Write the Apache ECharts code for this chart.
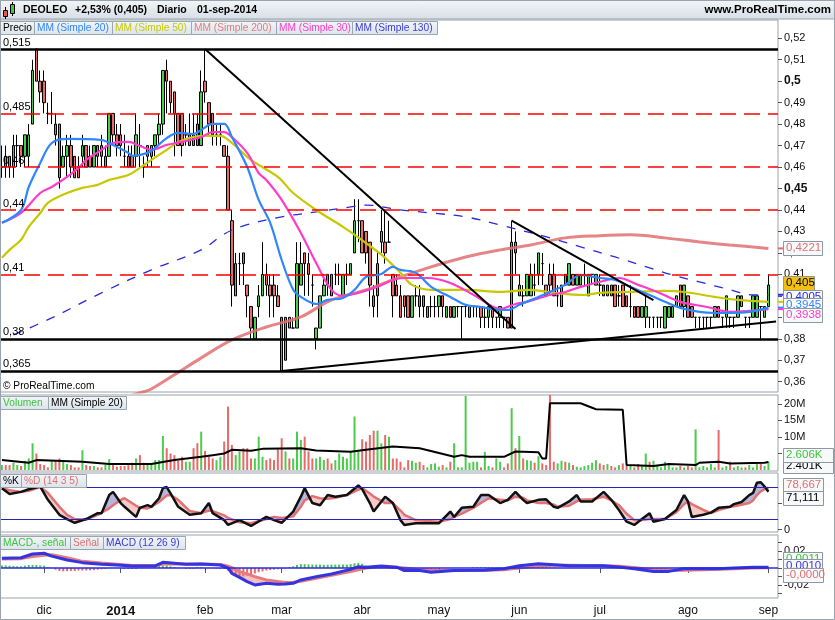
<!DOCTYPE html>
<html>
<head>
<meta charset="utf-8">
<script src="https://cdn.jsdelivr.net/npm/echarts@6/dist/echarts.min.js"></script>
<style>
  html, body { margin: 0; padding: 0; background: #fff; }
  #chart { width: 835px; height: 620px; }
</style>
</head>
<body>
<div id="chart"></div>
<script>
// === Data === //
const tradingDays = [
  ['2013-11', [15, 18, 19, 20, 21, 22, 25, 26, 27, 28, 29]],
  ['2013-12', [2, 3, 4, 5, 6, 9, 10, 11, 12, 13, 16, 17, 18, 19, 20, 23, 24, 27, 30, 31]],
  ['2014-01', [2, 3, 6, 7, 8, 9, 10, 13, 14, 15, 16, 17, 20, 21, 22, 23, 24, 27, 28, 29, 30, 31]],
  ['2014-02', [3, 4, 5, 6, 7, 10, 11, 12, 13, 14, 17, 18, 19, 20, 21, 24, 25, 26, 27, 28]],
  ['2014-03', [3, 4, 5, 6, 7, 10, 11, 12, 13, 14, 17, 18, 19, 20, 21, 24, 25, 26, 27, 28, 31]],
  ['2014-04', [1, 2, 3, 4, 7, 8, 9, 10, 11, 14, 15, 16, 17, 22, 23, 24, 25, 28, 29, 30]],
  ['2014-05', [2, 5, 6, 7, 8, 9, 12, 13, 14, 15, 16, 19, 20, 21, 22, 23, 26, 27, 28, 29, 30]],
  ['2014-06', [2, 3, 4, 5, 6, 9, 10, 11, 12, 13, 16, 17, 18, 19, 20, 23, 24, 25, 26, 27, 30]],
  ['2014-07', [1, 2, 3, 4, 7, 8, 9, 10, 11, 14, 15, 16, 17, 18, 21, 22, 23, 24, 25, 28, 29, 30, 31]],
  ['2014-08', [1, 4, 5, 6, 7, 8, 11, 12, 13, 14, 15, 18, 19, 20, 21, 22, 25, 26, 27, 28, 29]],
  ['2014-09', [1]]
]

const monthTickLabels = {
  '2013-12': 'dic', '2014-01': '2014', '2014-02': 'feb', '2014-03': 'mar', '2014-04': 'abr',
  '2014-05': 'may', '2014-06': 'jun', '2014-07': 'jul', '2014-08': 'ago', '2014-09': 'sep'
}

// [open, close, low, high]
const candles = [
  [0.460, 0.460, 0.455, 0.470], [0.465, 0.460, 0.455, 0.470], [0.465, 0.460, 0.455, 0.465], [0.460, 0.470, 0.455, 0.475], [0.470, 0.470, 0.460, 0.475],
  [0.470, 0.465, 0.460, 0.470], [0.465, 0.475, 0.460, 0.475], [0.465, 0.475, 0.460, 0.480], [0.480, 0.505, 0.480, 0.510], [0.515, 0.500, 0.500, 0.515],
  [0.500, 0.495, 0.490, 0.505], [0.500, 0.490, 0.485, 0.505], [0.485, 0.485, 0.480, 0.490], [0.485, 0.485, 0.480, 0.495], [0.480, 0.475, 0.470, 0.485],
  [0.480, 0.455, 0.450, 0.480], [0.460, 0.465, 0.460, 0.470], [0.465, 0.470, 0.455, 0.475], [0.470, 0.460, 0.455, 0.475], [0.465, 0.455, 0.455, 0.465],
  [0.460, 0.455, 0.455, 0.465], [0.465, 0.470, 0.460, 0.475], [0.470, 0.460, 0.460, 0.470], [0.465, 0.460, 0.460, 0.470], [0.460, 0.470, 0.460, 0.470],
  [0.470, 0.465, 0.460, 0.470], [0.470, 0.465, 0.460, 0.475], [0.460, 0.465, 0.460, 0.470], [0.465, 0.485, 0.465, 0.485], [0.485, 0.475, 0.470, 0.485],
  [0.475, 0.470, 0.465, 0.480], [0.475, 0.470, 0.465, 0.480], [0.465, 0.465, 0.460, 0.475], [0.465, 0.460, 0.460, 0.470], [0.465, 0.460, 0.460, 0.470],
  [0.465, 0.475, 0.460, 0.485], [0.470, 0.470, 0.460, 0.480], [0.460, 0.460, 0.455, 0.465], [0.465, 0.470, 0.460, 0.470], [0.465, 0.470, 0.460, 0.470],
  [0.470, 0.475, 0.465, 0.475], [0.475, 0.480, 0.470, 0.485], [0.480, 0.505, 0.475, 0.505], [0.505, 0.500, 0.485, 0.510], [0.500, 0.490, 0.485, 0.500],
  [0.495, 0.485, 0.465, 0.495], [0.485, 0.470, 0.470, 0.485], [0.485, 0.470, 0.465, 0.485], [0.475, 0.475, 0.470, 0.480], [0.470, 0.475, 0.470, 0.485],
  [0.475, 0.470, 0.470, 0.485], [0.480, 0.470, 0.470, 0.485], [0.470, 0.495, 0.470, 0.505], [0.500, 0.495, 0.490, 0.515], [0.490, 0.480, 0.475, 0.490],
  [0.485, 0.475, 0.470, 0.485], [0.475, 0.475, 0.470, 0.480], [0.475, 0.475, 0.470, 0.480], [0.470, 0.465, 0.465, 0.470], [0.465, 0.440, 0.440, 0.470],
  [0.435, 0.405, 0.395, 0.440], [0.400, 0.415, 0.400, 0.420], [0.415, 0.415, 0.405, 0.420], [0.420, 0.415, 0.405, 0.420], [0.405, 0.400, 0.390, 0.405],
  [0.395, 0.385, 0.380, 0.395], [0.380, 0.390, 0.380, 0.390], [0.395, 0.400, 0.390, 0.405], [0.400, 0.410, 0.400, 0.425], [0.410, 0.405, 0.400, 0.415],
  [0.405, 0.400, 0.390, 0.410], [0.405, 0.400, 0.390, 0.410], [0.400, 0.395, 0.395, 0.405], [0.390, 0.365, 0.365, 0.390], [0.370, 0.390, 0.370, 0.390],
  [0.390, 0.385, 0.385, 0.390], [0.385, 0.385, 0.385, 0.390], [0.385, 0.415, 0.385, 0.425], [0.405, 0.415, 0.405, 0.425], [0.420, 0.415, 0.400, 0.420],
  [0.415, 0.410, 0.400, 0.420], [0.405, 0.405, 0.395, 0.410], [0.380, 0.385, 0.375, 0.385], [0.385, 0.400, 0.385, 0.400], [0.400, 0.405, 0.400, 0.410],
  [0.410, 0.405, 0.400, 0.410], [0.410, 0.400, 0.400, 0.410], [0.410, 0.410, 0.405, 0.415], [0.410, 0.410, 0.405, 0.415], [0.400, 0.410, 0.400, 0.410],
  [0.410, 0.410, 0.405, 0.415], [0.410, 0.415, 0.410, 0.415], [0.420, 0.435, 0.420, 0.445], [0.435, 0.435, 0.425, 0.445], [0.435, 0.420, 0.420, 0.435],
  [0.430, 0.420, 0.415, 0.430], [0.425, 0.405, 0.395, 0.425], [0.400, 0.395, 0.390, 0.405], [0.400, 0.415, 0.390, 0.420], [0.425, 0.430, 0.420, 0.440],
  [0.425, 0.420, 0.415, 0.440], [0.425, 0.425, 0.425, 0.435], [0.410, 0.400, 0.390, 0.410], [0.405, 0.400, 0.400, 0.410], [0.400, 0.390, 0.390, 0.405],
  [0.400, 0.395, 0.390, 0.400], [0.400, 0.390, 0.390, 0.400], [0.390, 0.400, 0.390, 0.400], [0.400, 0.400, 0.395, 0.405], [0.400, 0.395, 0.390, 0.405],
  [0.400, 0.395, 0.390, 0.400], [0.390, 0.395, 0.390, 0.395], [0.395, 0.395, 0.390, 0.400], [0.395, 0.395, 0.390, 0.400], [0.395, 0.400, 0.390, 0.400],
  [0.400, 0.395, 0.390, 0.400], [0.390, 0.395, 0.390, 0.395], [0.395, 0.390, 0.390, 0.395], [0.390, 0.395, 0.390, 0.395], [0.395, 0.395, 0.390, 0.395],
  [0.395, 0.395, 0.380, 0.395], [0.395, 0.395, 0.390, 0.395], [0.390, 0.395, 0.390, 0.395], [0.395, 0.395, 0.390, 0.395], [0.395, 0.395, 0.390, 0.395],
  [0.395, 0.390, 0.385, 0.395], [0.390, 0.390, 0.385, 0.395], [0.390, 0.395, 0.385, 0.395], [0.395, 0.390, 0.385, 0.395], [0.390, 0.390, 0.385, 0.390],
  [0.390, 0.395, 0.385, 0.395], [0.390, 0.390, 0.385, 0.390], [0.390, 0.385, 0.385, 0.390], [0.385, 0.425, 0.385, 0.435], [0.425, 0.420, 0.410, 0.430],
  [0.400, 0.405, 0.400, 0.410], [0.400, 0.400, 0.395, 0.405], [0.400, 0.410, 0.400, 0.410], [0.400, 0.410, 0.400, 0.415], [0.405, 0.405, 0.400, 0.415],
  [0.410, 0.420, 0.405, 0.420], [0.415, 0.415, 0.405, 0.420], [0.405, 0.400, 0.400, 0.405], [0.410, 0.405, 0.400, 0.415], [0.410, 0.400, 0.400, 0.415],
  [0.400, 0.400, 0.395, 0.405], [0.395, 0.405, 0.395, 0.405], [0.410, 0.405, 0.405, 0.410], [0.405, 0.415, 0.405, 0.415], [0.410, 0.405, 0.405, 0.410],
  [0.405, 0.410, 0.405, 0.410], [0.405, 0.410, 0.405, 0.410], [0.410, 0.410, 0.405, 0.415], [0.400, 0.410, 0.400, 0.410], [0.410, 0.410, 0.405, 0.410],
  [0.405, 0.410, 0.405, 0.410], [0.405, 0.405, 0.400, 0.410], [0.405, 0.400, 0.400, 0.405], [0.400, 0.405, 0.400, 0.405], [0.405, 0.400, 0.400, 0.405],
  [0.405, 0.395, 0.395, 0.405], [0.400, 0.400, 0.395, 0.405], [0.405, 0.395, 0.395, 0.405], [0.400, 0.395, 0.395, 0.400], [0.395, 0.395, 0.390, 0.405],
  [0.395, 0.390, 0.390, 0.395], [0.395, 0.390, 0.390, 0.395], [0.390, 0.395, 0.390, 0.395], [0.390, 0.395, 0.385, 0.400], [0.390, 0.390, 0.385, 0.390],
  [0.390, 0.390, 0.385, 0.390], [0.390, 0.390, 0.385, 0.390], [0.390, 0.390, 0.385, 0.390], [0.385, 0.395, 0.385, 0.395], [0.390, 0.395, 0.390, 0.395],
  [0.390, 0.395, 0.390, 0.395], [0.395, 0.400, 0.395, 0.400], [0.405, 0.395, 0.395, 0.405], [0.395, 0.405, 0.390, 0.405], [0.400, 0.390, 0.390, 0.400],
  [0.395, 0.390, 0.390, 0.395], [0.390, 0.390, 0.385, 0.390], [0.390, 0.390, 0.385, 0.390], [0.390, 0.390, 0.385, 0.390], [0.390, 0.390, 0.385, 0.390],
  [0.390, 0.390, 0.385, 0.390], [0.390, 0.395, 0.390, 0.395], [0.395, 0.390, 0.390, 0.395], [0.390, 0.390, 0.385, 0.390], [0.390, 0.400, 0.385, 0.400],
  [0.390, 0.390, 0.385, 0.390], [0.390, 0.390, 0.385, 0.390], [0.390, 0.400, 0.390, 0.400], [0.395, 0.400, 0.395, 0.400], [0.390, 0.390, 0.385, 0.390],
  [0.390, 0.390, 0.385, 0.390], [0.390, 0.400, 0.390, 0.400], [0.390, 0.400, 0.390, 0.400], [0.395, 0.395, 0.380, 0.395], [0.390, 0.395, 0.390, 0.395],
  [0.395, 0.405, 0.395, 0.410]
]

// moving averages: [bar index, value]
const ma20 = [[0, 0.434], [5, 0.44], [7, 0.4507], [10, 0.4619], [13, 0.4712], [17, 0.4731], [26, 0.4726], [29, 0.4703], [33, 0.4666], [34, 0.4652],
  [38, 0.4666], [40, 0.4689], [43, 0.4735], [46, 0.4759], [50, 0.4754], [52, 0.4773], [55, 0.4801], [58, 0.4801], [60, 0.474], [64, 0.46],
  [67, 0.4447], [70, 0.434], [73, 0.4167], [76, 0.4028], [78, 0.3995], [82, 0.3962], [85, 0.3981], [89, 0.399], [92, 0.4028], [95, 0.4088],
  [99, 0.4102], [102, 0.4135], [104, 0.4121], [108, 0.4107], [112, 0.4042], [117, 0.3995], [121, 0.3958], [125, 0.3948], [130, 0.3934], [132, 0.3934],
  [135, 0.3958], [140, 0.3995], [143, 0.4018], [147, 0.4051], [151, 0.4097], [156, 0.4083], [160, 0.4074], [164, 0.4042], [169, 0.4004], [173, 0.3972],
  [177, 0.3944], [182, 0.3925], [186, 0.392], [190, 0.392], [195, 0.3925], [200, 0.3945]]
const ma50 = [[0, 0.4177], [2, 0.4214], [5, 0.4261], [7, 0.4321], [10, 0.4386], [12, 0.4433], [17, 0.4479], [21, 0.4503], [25, 0.4517], [28, 0.454],
  [33, 0.4563], [36, 0.4596], [39, 0.4633], [43, 0.468], [46, 0.4717], [50, 0.474], [53, 0.4745], [57, 0.4745], [60, 0.4712], [65, 0.4633],
  [72, 0.4554], [76, 0.4479], [82, 0.44], [89, 0.4321], [95, 0.4246], [100, 0.4177], [104, 0.4107], [107, 0.4051], [112, 0.4028], [121, 0.4028],
  [130, 0.4018], [138, 0.4028], [144, 0.4014], [152, 0.4004], [156, 0.4014], [164, 0.4018], [173, 0.4023], [178, 0.4018], [186, 0.3995], [192, 0.3981],
  [200, 0.3972]]
const ma200 = [[30, 0.352], [37, 0.3553], [39, 0.3566], [45, 0.3632], [52, 0.3711], [60, 0.3795], [69, 0.3855], [78, 0.3902], [86, 0.3981], [95, 0.4028],
  [104, 0.4088], [112, 0.4135], [121, 0.4181], [130, 0.4214], [138, 0.4237], [147, 0.427], [156, 0.428], [164, 0.4284], [173, 0.427], [182, 0.4251],
  [190, 0.4237], [200, 0.4221]]
const ma30 = [[0, 0.434], [5, 0.4386], [10, 0.4479], [13, 0.4507], [17, 0.4554], [20, 0.4596], [22, 0.4633], [26, 0.468], [29, 0.4712], [33, 0.4717],
  [36, 0.4698], [39, 0.468], [43, 0.4703], [47, 0.4717], [52, 0.474], [55, 0.4763], [58, 0.4763], [60, 0.474], [64, 0.4666], [67, 0.4572],
  [69, 0.454], [73, 0.4447], [78, 0.4293], [82, 0.4153], [86, 0.4028], [89, 0.40], [93, 0.4014], [98, 0.4042], [102, 0.4074], [105, 0.4083],
  [111, 0.4083], [117, 0.406], [124, 0.3995], [130, 0.3939], [134, 0.3962], [137, 0.3972], [143, 0.4004], [147, 0.4018], [151, 0.4042], [158, 0.4074],
  [161, 0.4083], [166, 0.4051], [171, 0.4018], [177, 0.3972], [184, 0.3948], [190, 0.3925], [200, 0.3938]]
const ma130 = [[3, 0.3818], [13, 0.3897], [26, 0.4014], [39, 0.4121], [52, 0.4214], [58, 0.4288], [63, 0.4326], [73, 0.4368], [82, 0.4391], [91, 0.4414],
  [95, 0.4423], [104, 0.44], [112, 0.4386], [121, 0.4368], [130, 0.433], [143, 0.427], [151, 0.4228], [160, 0.4181], [169, 0.413], [175, 0.4097],
  [182, 0.4065], [190, 0.4028], [196, 0.4004], [200, 0.4005]]

const blackLevels = [0.515, 0.38, 0.365]
const redLevels = [0.485, 0.46, 0.44, 0.41]
const trendLines = [[[53, 0.515], [134, 0.3845]], [[73, 0.365], [202, 0.388]], [[133, 0.435], [170, 0.398]]]
const priceTicks = [0.36, 0.37, 0.38, 0.39, 0.40, 0.41, 0.42, 0.43, 0.44, 0.45, 0.46, 0.47, 0.48, 0.49, 0.50, 0.51, 0.52]

// volume in millions
const volume = [
  1.5, 1.5, 1.5, 2.2, 1.5, 1.2, 2.8, 3.5, 8.1, 5.0,
  1.8, 1.5, 0.8, 2.8, 2.8, 3.5, 2.5, 1.8, 1.5, 0.8,
  0.8, 6.0, 1.5, 1.2, 1.2, 0.8, 0.8, 1.5, 3.3, 1.5,
  1.0, 1.2, 1.2, 1.5, 2.2, 3.5, 4.5, 2.2, 1.8, 1.8,
  3.0, 3.0, 10.3, 6.6, 5.0, 4.5, 2.8, 4.0, 2.5, 2.5,
  6.6, 8.1, 11.6, 5.8, 4.0, 3.5, 3.0, 4.0, 8.6, 19.2,
  7.6, 4.5, 5.6, 6.6, 6.6, 3.5, 3.5, 10.1, 4.0, 3.0,
  3.5, 3.0, 6.6, 9.6, 5.6, 3.5, 3.5, 11.6, 9.1, 10.1,
  5.6, 3.5, 3.5, 4.0, 3.0, 3.5, 2.0, 3.0, 5.0, 4.0,
  3.5, 5.6, 16.2, 5.6, 9.3, 8.6, 10.6, 11.9, 11.9, 8.1,
  10.6, 10.1, 3.5, 3.5, 2.5, 0.8, 3.0, 2.8, 2.2, 2.5,
  1.5, 0.8, 1.8, 2.0, 1.0, 1.5, 0.8, 2.5, 8.1, 0.8,
  0.8, 22.4, 2.2, 2.5, 2.5, 0.8, 5.5, 1.2, 0.8, 3.5,
  2.5, 0.8, 2.0, 18.7, 6.6, 10.3, 3.5, 3.0, 2.8, 2.2,
  4.2, 2.0, 1.5, 365, 2.5, 2.0, 2.8, 2.5, 2.2, 1.5,
  1.0, 0.8, 1.2, 1.5, 2.2, 3.0, 2.0, 1.5, 1.8, 1.2,
  0.8, 1.5, 2.0, 1.5, 1.2, 0.8, 1.8, 1.5, 5.0, 2.5,
  2.8, 1.2, 0.8, 2.5, 1.5, 0.8, 0.8, 1.2, 0.8, 1.2,
  0.8, 12.3, 0.8, 1.2, 0.8, 1.8, 0.8, 12.1, 0.8, 1.2,
  2.5, 0.8, 1.2, 0.8, 0.8, 1.5, 0.8, 1.8, 1.8, 1.2, 2.5
]
const volumeMa = [[0, 3.0], [7, 2.2], [9, 3.0], [21, 2.5], [28, 1.8], [39, 1.8], [45, 3.0], [52, 4.0], [55, 4.5], [58, 5.0],
  [60, 6.1], [65, 5.8], [68, 6.4], [78, 6.6], [82, 5.9], [91, 5.5], [95, 6.1], [102, 7.1], [109, 6.6], [118, 4.0],
  [120, 4.5], [122, 4.0], [131, 4.0], [134, 5.6], [140, 5.4], [141, 3.5], [142, 3.5], [143, 20.2], [151, 20.2], [155, 18.4],
  [162, 18.2], [163, 1.5], [170, 1.2], [174, 1.8], [181, 1.5], [182, 2.2], [187, 2.5], [190, 2.0], [199, 2.2], [200, 2.4]]
const volumeTicks = [5, 10, 15, 20]

// stochastic %K / %D (14 3 5)
const stochIdx = [0, 2, 5, 7, 10, 12, 15, 17, 19, 22, 25, 26, 28, 29, 31, 32, 35, 36, 38, 39,
  41, 42, 43, 44, 46, 49, 52, 54, 55, 58, 59, 62, 65, 69, 71, 73, 76, 78, 79, 81,
  83, 85, 87, 90, 93, 94, 96, 97, 100, 102, 104, 105, 108, 112, 114, 117, 118, 120, 123, 125,
  127, 130, 132, 134, 136, 137, 140, 142, 144, 145, 148, 150, 151, 154, 157, 159, 161, 163, 165, 167,
  169, 170, 173, 176, 178, 179, 180, 183, 185, 187, 190, 191, 193, 195, 196, 197, 198, 199, 200]
const stochK = [78, 67, 71, 76, 81, 56, 28, 20, 13, 20, 31, 31, 65, 71, 50, 43, 24, 41, 46, 43,
  59, 78, 80, 68, 43, 28, 31, 50, 31, 18, 9, 18, 7, 24, 18, 13, 34, 62, 78, 50,
  46, 65, 62, 65, 83, 76, 50, 34, 62, 50, 18, 9, 12, 12, 12, 34, 24, 41, 43, 65,
  65, 50, 56, 71, 56, 50, 56, 57, 43, 41, 53, 65, 53, 53, 71, 56, 37, 15, 9, 20,
  31, 15, 20, 37, 65, 53, 24, 28, 32, 41, 43, 48, 52, 65, 69, 88, 89, 81, 71.111]
const stochD = [78, 74, 71, 73, 80, 69, 43, 28, 20, 19, 28, 32, 40, 46, 56, 59, 45, 41, 40, 43,
  52, 58, 64, 65, 56, 35, 31, 36, 35, 27, 22, 14, 12, 20, 24, 22, 25, 43, 55, 63,
  59, 58, 60, 65, 75, 78, 68, 62, 50, 50, 36, 28, 18, 16, 15, 20, 24, 30, 41, 50,
  59, 56, 55, 62, 60, 55, 50, 50, 47, 43, 45, 53, 56, 57, 62, 55, 46, 30, 18, 18,
  20, 20, 20, 33, 48, 53, 48, 37, 31, 37, 43, 44, 47, 50, 55, 65, 72, 76, 78.667]

// MACD (12 26 9)
const macdIdx = [0, 5, 8, 11, 13, 17, 21, 26, 30, 34, 40, 42, 45, 48, 52, 57, 59, 60, 62, 64,
  66, 69, 72, 74, 76, 78, 82, 86, 91, 93, 95, 99, 103, 105, 109, 112, 118, 126, 131, 135,
  140, 144, 148, 157, 161, 165, 170, 174, 178, 183, 187, 191, 196, 200]
const macdLine = [0.0114, 0.012, 0.0165, 0.0173, 0.014, 0.0094, 0.0063, 0.0043, 0.0035, 0.0024,
  0.0024, 0.0067, 0.0055, 0.0043, 0.0047, 0.0035, 0, -0.0063, -0.011, -0.016,
  -0.02, -0.018, -0.019, -0.0188, -0.018, -0.0141, -0.0102, -0.007, -0.0016, 0.0016,
  0.001, 0.0024, 0.001, -0.003, -0.003, -0.005, -0.003, -0.0027, -0.001, 0.0027,
  0.005, 0.0039, 0.0027, 0.0027, 0.0012, -0.001, -0.004, -0.004, -0.001, -0.001,
  -0.0008, 0, 0.001, 0.001]
const macdSignal = [0.0105, 0.011, 0.0135, 0.015, 0.0155, 0.012, 0.0078, 0.0059, 0.0045, 0.003,
  0.0028, 0.0047, 0.005, 0.0048, 0.0047, 0.004, 0.002, 0.0005, -0.0043, -0.007,
  -0.0102, -0.014, -0.016, -0.017, -0.0168, -0.0157, -0.012, -0.0086, -0.0043, -0.002,
  0, 0.0016, 0.001, 0, -0.002, -0.003, -0.003, -0.0027, -0.002, 0,
  0.0027, 0.0031, 0.0031, 0.0027, 0.002, 0.0005, -0.002, -0.0027, -0.0027, -0.002,
  -0.0015, -0.0008, 0, 0.0004]
const macdHist = [
  0.003, 0.003, 0.0028, 0.0025, 0.0022, 0.002, 0.0028, 0.0035, 0.0035, 0.0035,
  0.003, 0.0028, 0.001, 0, -0.002, -0.0035, -0.004, -0.0038, -0.0035, -0.0035,
  -0.003, -0.003, -0.003, -0.0028, -0.0025, -0.002, -0.0015, -0.001, 0, 0,
  0, 0, -0.001, -0.0012, -0.0012, -0.001, 0, 0, 0, 0,
  0.001, 0.0025, 0.003, 0.003, 0.002, 0.001, 0, 0, -0.001, -0.001,
  -0.001, 0.0008, 0.001, 0, 0, 0, -0.001, -0.0012, -0.001, -0.003,
  -0.006, -0.0085, -0.0098, -0.0098, -0.009, -0.008, -0.0065, -0.005, -0.004, -0.003,
  -0.0025, -0.002, -0.0015, -0.001, -0.0005, 0.001, 0.002, 0.0035, 0.0045, 0.0045,
  0.0042, 0.004, 0.004, 0.004, 0.0038, 0.0038, 0.004, 0.004, 0.004, 0.004,
  0.004, 0.0045, 0.0055, 0.006, 0.005, 0.0028, 0.001, 0, 0, 0.0005,
  0.0005, 0, 0, -0.0005, -0.001, -0.001, -0.001, -0.001, -0.001, -0.001,
  -0.001, -0.001, -0.0008, -0.0005, 0, 0, 0, 0, 0, 0,
  0, 0, 0, 0.0008, 0.0008, 0.0008, 0.0008, 0.0008, 0.0008, 0.0005,
  0, 0, 0.0015, 0.002, 0.002, 0.0015, 0.001, 0.001, 0.001, 0.0008,
  0.0012, 0.0012, 0.001, 0.0008, 0.0005, 0, 0, 0, 0, 0,
  0, 0, 0, 0, 0, 0, 0, 0, 0, 0,
  0, 0, 0, 0, 0, 0, 0, 0, -0.0012, -0.0012,
  -0.0012, -0.001, -0.001, -0.0008, 0, 0, 0, 0.0008, 0.0008, 0.0008,
  0.0008, 0.0005, 0.0005, 0, 0, 0.0008, 0.0008, 0.0008, 0.0008, 0.0008,
  0.0008, 0.0008, 0.0008, 0.0008, 0.0008, 0.0008, 0.0008, 0.0005, 0.0005, 0.0005, 0.0005
]
const macdTicks = [-0.03, -0.02, -0.01, 0, 0.01, 0.02, 0.03]

// === Build === //
const FONT = '"Liberation Sans", Arial, sans-serif'
const fmt = (v, d) => v.toFixed(d).replace('.', ',')

const dates = []
const monthFirst = {}
tradingDays.forEach(([month, days]) => {
  if (monthTickLabels[month]) monthFirst[dates.length] = monthTickLabels[month]
  days.forEach(d => dates.push(month + '-' + String(d).padStart(2, '0')))
})
const categories = dates.concat(['', ''])
const isTick = i => monthFirst[i] !== undefined

const GREEN = '#4ccc4c'
const RED = '#e86a6a'
const volColors = candles.map(([o, c], i) => {
  if (c !== o) return c > o ? GREEN : RED
  return i === 0 || c >= candles[i - 1][1] ? GREEN : RED
})

const grids = [
  { left: 0, right: 57, top: 20, height: 372 },
  { left: 0, right: 57, top: 395, height: 76 },
  { left: 0, right: 57, top: 473, height: 59 },
  { left: 0, right: 57, top: 535, height: 63 }
].map(g => ({ ...g, show: true, borderColor: '#9aa3ab', borderWidth: 1, backgroundColor: '#fff' }))

const xAxes = grids.map((g, i) => ({
  type: 'category', gridIndex: i, data: categories, boundaryGap: true,
  axisLine: { show: false }, splitLine: { show: false },
  axisTick: i === 3
    ? { show: true, interval: isTick, alignWithLabel: true, length: 5, lineStyle: { color: '#555' } }
    : { show: false },
  axisLabel: i === 3
    ? {
        show: true, interval: isTick, margin: 7, fontSize: 12, color: '#111', fontFamily: FONT,
        formatter: (v, idx) => (monthFirst[idx] === '2014' ? '{y|2014}' : monthFirst[idx] || ''),
        rich: { y: { fontWeight: 'bold', fontSize: 13, fontFamily: FONT, color: '#111' } }
      }
    : { show: false }
}))

const yBase = {
  type: 'value', position: 'right', splitLine: { show: false }, axisLine: { show: false },
  axisTick: { show: true, length: 4, lineStyle: { color: '#555' } },
  axisLabel: { margin: 6, fontSize: 11, color: '#111', fontFamily: FONT }
}
const yAxes = [
  {
    ...yBase, gridIndex: 0, min: 0.3552, max: 0.5285,
    axisTick: { ...yBase.axisTick, customValues: priceTicks },
    axisLabel: {
      ...yBase.axisLabel, customValues: priceTicks,
      formatter: v => {
        const s = String(+v.toFixed(3)).replace('.', ',')
        return Math.round(v * 1000) % 50 === 0 ? '{b|' + s + '}' : s
      },
      rich: { b: { fontWeight: 'bold', fontSize: 12, fontFamily: FONT, color: '#111' } }
    }
  },
  {
    ...yBase, gridIndex: 1, min: -0.3, max: 22.7,
    axisTick: { ...yBase.axisTick, customValues: volumeTicks },
    axisLabel: { ...yBase.axisLabel, customValues: volumeTicks, formatter: v => v + 'M' }
  },
  {
    ...yBase, gridIndex: 2, min: -4.3, max: 106.4,
    axisTick: { ...yBase.axisTick, customValues: [0, 50] },
    axisLabel: { ...yBase.axisLabel, customValues: [0, 50] }
  },
  {
    ...yBase, gridIndex: 3, min: -0.0353, max: 0.0388,
    axisTick: { ...yBase.axisTick, customValues: macdTicks },
    axisLabel: {
      ...yBase.axisLabel, customValues: macdTicks,
      formatter: v => (Math.abs(Math.abs(v) - 0.02) < 1e-9 ? fmt(v, 2) : '')
    }
  }
]

const maLine = (name, data, color, width, extra) => ({
  name, type: 'line', xAxisIndex: 0, yAxisIndex: 0, data, smooth: 0.35, symbol: 'none',
  silent: true, z: 4, lineStyle: { color, width, ...(extra || {}) }
})

// filled band between two sampled lines, coloured by which one is on top
const band = (idx, a, b, axis, upColor, downColor) => ({
  type: 'custom', xAxisIndex: axis, yAxisIndex: axis, silent: true, z: 2,
  data: idx.slice(0, -1).map((v, j) => [v, a[j], j]),
  renderItem: (params, api) => {
    const j = api.value(2)
    const a0 = api.coord([idx[j], a[j]]), a1 = api.coord([idx[j + 1], a[j + 1]])
    const b0 = api.coord([idx[j], b[j]]), b1 = api.coord([idx[j + 1], b[j + 1]])
    const d0 = a[j] - b[j], d1 = a[j + 1] - b[j + 1]
    const col = d => (d >= 0 ? upColor : downColor)
    if (d0 * d1 >= 0) {
      return { type: 'polygon', shape: { points: [a0, a1, b1, b0] }, style: { fill: col(d0 + d1) } }
    }
    const t = d0 / (d0 - d1)
    const c = [a0[0] + (a1[0] - a0[0]) * t, a0[1] + (a1[1] - a0[1]) * t]
    return {
      type: 'group', children: [
        { type: 'polygon', shape: { points: [a0, c, b0] }, style: { fill: col(d0) } },
        { type: 'polygon', shape: { points: [c, a1, b1] }, style: { fill: col(d1) } }
      ]
    }
  }
})

const pairs = (idx, vals) => idx.map((v, j) => [v, vals[j]])

const series = [
  {
    name: 'Precio', type: 'candlestick', xAxisIndex: 0, yAxisIndex: 0, data: candles, barWidth: 3, z: 3,
    itemStyle: { color: GREEN, color0: RED, borderColor: '#000', borderColor0: '#000', borderColorDoji: '#000', borderWidth: 1 },
    markLine: {
      symbol: 'none', silent: true, animation: false, precision: 4, z: 5,
      label: {
        position: 'insideStartTop', distance: [3, 1], color: '#000', fontSize: 11, fontFamily: FONT,
        formatter: p => String(+(+p.value).toFixed(3)).replace('.', ',')
      },
      data: [
        ...blackLevels.map(v => ({ yAxis: v, lineStyle: { color: '#000', width: 2.5, type: 'solid' } })),
        ...redLevels.map(v => ({ yAxis: v, lineStyle: { color: '#ff0000', width: 1.5, type: [16, 8] } })),
        ...trendLines.map(([p, q]) => [
          { coord: p, lineStyle: { color: '#000', width: 2, type: 'solid' }, label: { show: false } },
          { coord: q }
        ])
      ]
    }
  },
  maLine('MM (Simple 200)', ma200, 'rgba(224,112,112,0.85)', 3),
  maLine('MM (Simple 130)', ma130, '#2a2ad6', 1.3, { type: [9, 9] }),
  maLine('MM (Simple 50)', ma50, '#c8c800', 2.2),
  maLine('MM (Simple 30)', ma30, '#ff3cc8', 2.2),
  maLine('MM (Simple 20)', ma20, '#2f86ff', 2.2),

  {
    name: 'Volumen', type: 'bar', xAxisIndex: 1, yAxisIndex: 1, barWidth: 2, silent: true,
    data: volume.map((v, i) => ({ value: v, itemStyle: { color: volColors[i] } }))
  },
  {
    name: 'MM vol', type: 'line', xAxisIndex: 1, yAxisIndex: 1, data: volumeMa, symbol: 'none', silent: true,
    clip: true, z: 4, lineStyle: { color: '#000', width: 2 }
  },

  band(stochIdx, stochK, stochD, 2, 'rgba(120,120,190,0.55)', 'rgba(240,150,150,0.5)'),
  {
    name: '%D', type: 'line', xAxisIndex: 2, yAxisIndex: 2, data: pairs(stochIdx, stochD), symbol: 'none', silent: true,
    z: 3, lineStyle: { color: '#e27272', width: 2.5 }
  },
  {
    name: '%K', type: 'line', xAxisIndex: 2, yAxisIndex: 2, data: pairs(stochIdx, stochK), symbol: 'none', silent: true,
    z: 4, lineStyle: { color: '#111', width: 2.5 },
    markLine: {
      symbol: 'none', silent: true, label: { show: false },
      lineStyle: { color: '#2424b8', width: 1, type: 'solid' },
      data: [{ yAxis: 80 }, { yAxis: 20 }]
    }
  },

  {
    name: 'MACD-, señal', type: 'bar', xAxisIndex: 3, yAxisIndex: 3, barWidth: 2, silent: true,
    data: macdHist.map(v => ({ value: v, itemStyle: { color: v >= 0 ? '#44cc44' : '#e86a6a' } }))
  },
  band(macdIdx, macdLine, macdSignal, 3, 'rgba(150,150,220,0.45)', 'rgba(240,140,140,0.55)'),
  {
    name: 'Señal', type: 'line', xAxisIndex: 3, yAxisIndex: 3, data: pairs(macdIdx, macdSignal), symbol: 'none', silent: true,
    z: 3, lineStyle: { color: '#e87a7a', width: 3 }
  },
  {
    name: 'MACD', type: 'line', xAxisIndex: 3, yAxisIndex: 3, data: pairs(macdIdx, macdLine), symbol: 'none', silent: true,
    z: 4, lineStyle: { color: '#3535e0', width: 3 },
    markLine: {
      symbol: 'none', silent: true, label: { show: false }, precision: 4,
      lineStyle: { color: '#2a2ae0', width: 1.5, type: 'solid' },
      data: [{ yAxis: 0 }]
    }
  }
]

const chart = echarts.init(document.getElementById('chart'))
chart.setOption({
  animation: false,
  backgroundColor: '#fff',
  grid: grids,
  xAxis: xAxes,
  yAxis: yAxes,
  series
})

// === Overlay texts === //
const legendBox = (y, items) => items.flatMap(it => [
  {
    type: 'rect', z: 50, shape: { x: it.x + 0.5, y: y + 0.5, width: it.w, height: 13 },
    style: {
      stroke: '#9aa6b0', lineWidth: 1,
      fill: new echarts.graphic.LinearGradient(0, 0, 0, 1, [{ offset: 0, color: '#f2f6f9' }, { offset: 1, color: '#dbe3ea' }])
    }
  },
  {
    type: 'text', z: 51, x: it.x + 3, y: y + 7.5,
    style: { text: it.text, fill: it.color, font: '10.2px ' + FONT, verticalAlign: 'middle' }
  }
])

let boxZ = 60
const valueBox = (yc, text, color, bg, w) => {
  const z = boxZ
  boxZ += 2
  return [
    { type: 'rect', z, shape: { x: 783.5, y: Math.round(yc - 7) + 0.5, width: w, height: 14 }, style: { fill: bg, stroke: '#8d98a2', lineWidth: 1 } },
    { type: 'text', z: z + 1, x: 786, y: Math.round(yc), style: { text, fill: color, font: '11.5px ' + FONT, verticalAlign: 'middle' } }
  ]
}
const tickMark = (yc, color) => ({
  type: 'line', z: 55, shape: { x1: 778, y1: yc, x2: 783, y2: yc }, style: { stroke: color, lineWidth: 2 }
})
const py = v => chart.convertToPixel({ yAxisIndex: 0 }, v)

const last = a => a[a.length - 1][1]
const lastClose = candles[candles.length - 1][1]

const HEADER_FONT = 'bold 10.5px ' + FONT
const graphics = [
  // header
  {
    type: 'rect', z: 40, shape: { x: 0, y: 0, width: 835, height: 19 },
    style: {
      fill: new echarts.graphic.LinearGradient(0, 0, 0, 1, [{ offset: 0, color: '#f3f6f9' }, { offset: 1, color: '#d6dee6' }]),
      stroke: '#9aa3ab', lineWidth: 1
    }
  },
  { type: 'line', z: 41, shape: { x1: 5.5, y1: 7, x2: 5.5, y2: 19 }, style: { stroke: '#000', lineWidth: 1 } },
  { type: 'rect', z: 42, shape: { x: 3.5, y: 10.5, width: 4, height: 6 }, style: { fill: '#e25555', stroke: '#000', lineWidth: 1 } },
  { type: 'line', z: 41, shape: { x1: 12.5, y1: 2, x2: 12.5, y2: 16 }, style: { stroke: '#000', lineWidth: 1 } },
  { type: 'rect', z: 42, shape: { x: 10.5, y: 4.5, width: 4, height: 9 }, style: { fill: '#3ec83e', stroke: '#000', lineWidth: 1 } },
  { type: 'text', z: 42, x: 23, y: 10, style: { text: 'DEOLEO', fill: '#000', font: HEADER_FONT, verticalAlign: 'middle' } },
  { type: 'text', z: 42, x: 75, y: 10, style: { text: '+2,53% (0,405)', fill: '#000', font: HEADER_FONT, verticalAlign: 'middle' } },
  { type: 'text', z: 42, x: 157, y: 10, style: { text: 'Diario', fill: '#000', font: HEADER_FONT, verticalAlign: 'middle' } },
  { type: 'text', z: 42, x: 197, y: 10, style: { text: '01-sep-2014', fill: '#000', font: HEADER_FONT, verticalAlign: 'middle' } },
  { type: 'text', z: 42, x: 831, y: 10, style: { text: 'www.ProRealTime.com', fill: '#000', font: 'bold 11.5px ' + FONT, align: 'right', verticalAlign: 'middle' } },

  ...legendBox(21, [
    { x: 0, w: 34, text: 'Precio', color: '#000' },
    { x: 34, w: 78, text: 'MM (Simple 20)', color: '#2f86ff' },
    { x: 112, w: 79, text: 'MM (Simple 50)', color: '#c8c800' },
    { x: 191, w: 85, text: 'MM (Simple 200)', color: '#e07c7c' },
    { x: 276, w: 76, text: 'MM (Simple 30)', color: '#ff3cc8' },
    { x: 352, w: 85, text: 'MM (Simple 130)', color: '#3c3cd6' }
  ]),
  ...legendBox(396, [
    { x: 0, w: 48, text: 'Volumen', color: '#3ec43e' },
    { x: 48, w: 78, text: 'MM (Simple 20)', color: '#000' }
  ]),
  ...legendBox(474, [
    { x: 0, w: 21, text: '%K', color: '#000' },
    { x: 21, w: 65, text: '%D (14 3 5)', color: '#e07070' }
  ]),
  ...legendBox(536, [
    { x: 0, w: 70, text: 'MACD-, señal', color: '#3ec43e' },
    { x: 70, w: 33, text: 'Señal', color: '#e07070' },
    { x: 103, w: 82, text: 'MACD (12 26 9)', color: '#3c3cd6' }
  ]),
  { type: 'text', z: 50, x: 3, y: 386, style: { text: '© ProRealTime.com', fill: '#000', font: '10.2px ' + FONT, verticalAlign: 'middle' } },

  // price panel last values
  tickMark(py(last(ma200)), '#e07070'),
  tickMark(py(last(ma130)), '#2a2ad6'),
  tickMark(py(last(ma50)), '#c8c800'),
  tickMark(py(last(ma20)), '#2f86ff'),
  tickMark(py(last(ma30)), '#ff3cc8'),
  ...valueBox(py(last(ma200)), fmt(last(ma200), 4), '#e07070', '#f7f9fb', 39),
  ...valueBox(py(last(ma130)) + 2, fmt(last(ma130), 4), '#2a2ad6', '#f7f9fb', 39),
  ...valueBox(py(last(ma20)) - 3, fmt(last(ma20), 4), '#2f86ff', '#f7f9fb', 39),
  ...valueBox(py(last(ma30)) + 5.5, fmt(last(ma30), 4), '#ff3cc8', '#f7f9fb', 39),
  ...valueBox(py(lastClose) - 2, fmt(lastClose, 3), '#000', '#f2c10f', 31),

  // volume, stochastic, macd last values
  ...valueBox(466, '2.401K', '#000', '#f7f9fb', 50),
  ...valueBox(455, '2.606K', '#3ec43e', '#f7f9fb', 50),
  ...valueBox(484.5, fmt(stochD[stochD.length - 1], 3), '#e07070', '#f7f9fb', 40),
  ...valueBox(498, fmt(stochK[stochK.length - 1], 3), '#000', '#f7f9fb', 40),
  ...valueBox(559, '0,0011', '#3ec43e', '#f7f9fb', 39),
  ...valueBox(566, '0,0010', '#3535e0', '#f7f9fb', 39),
  ...valueBox(575, '-0,0000', '#e07070', '#f7f9fb', 40),

  // outer frame
  { type: 'rect', z: 100, shape: { x: 0.5, y: 0.5, width: 834, height: 619 }, style: { fill: 'none', stroke: '#9aa3ab', lineWidth: 1 } }
]

chart.setOption({ graphic: graphics })
</script>
</body>
</html>
